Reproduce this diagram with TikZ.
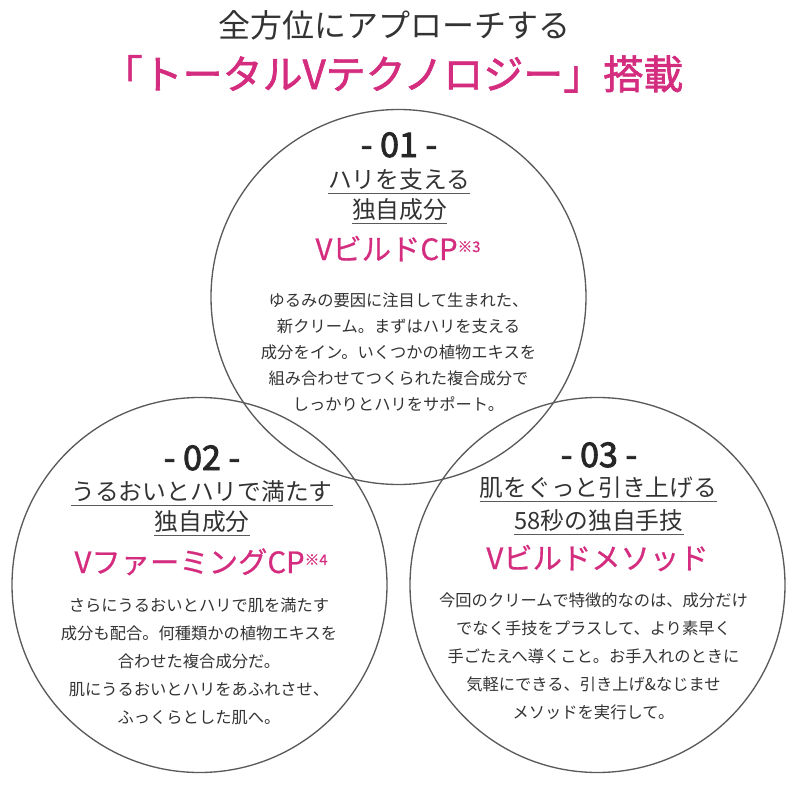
\documentclass[tikz,border=0pt]{standalone}
\usepackage{fontspec}
\setmainfont{Noto Sans CJK JP}
\newfontfamily\midfont{Noto Sans CJK JP}[FakeBold=1.6]
\newfontfamily\numfont{Noto Sans CJK JP}[FakeBold=2.6]
\newfontfamily\semifont{Noto Sans CJK JP}[FakeBold=0.7]
\definecolor{vpink}{HTML}{D42C7E}
\definecolor{ink}{HTML}{333333}
\definecolor{rim}{HTML}{5A5A5A}
\newcommand{\refmark}[1]{\raisebox{6pt}{\fontsize{11pt}{11pt}\selectfont ※#1}}

\begin{document}
\begin{tikzpicture}[x=0.75pt,y=-0.75pt,
  ring/.style={draw=rim, line width=1pt, circle, inner sep=0pt, minimum size=281.25pt},
  lead/.style={font=\fontsize{24pt}{28pt}\selectfont, text=ink, inner sep=0pt, anchor=base},
  catch/.style={font=\midfont\fontsize{30pt}{36pt}\selectfont, text=vpink, inner sep=0pt, anchor=base},
  numtag/.style={font=\numfont\fontsize{25.5pt}{30pt}\selectfont, text=black!85, inner sep=0pt, anchor=base},
  topic/.style={font=\fontsize{17.8pt}{21pt}\selectfont, text=ink, inner sep=0pt, anchor=base},
  vname/.style={font=\semifont\fontsize{22pt}{26pt}\selectfont, text=vpink, inner sep=0pt, anchor=base},
  blurb/.style={font=\fontsize{12.2pt}{#1}\selectfont, text=ink, align=center, inner sep=0pt},
  blurb/.default=21pt,
  uline/.style={draw=rim, line width=0.8pt}]
\useasboundingbox (0,0) rectangle (800,785);

% three overlapping rings
\node[ring] (ring1) at (398.5,297) {};
\node[ring] (ring2) at (199.5,585) {};
\node[ring] (ring3) at (597.5,585) {};

% headline
\node[lead] (head) at (394,37) {全方位にアプローチする};
\node[catch] (catch) at (393,89) {「トータルVテクノロジー」搭載};

% -01-
\node[numtag] (num1) at (399,157) {- 01 -};
\node[topic] (top1a) at (399,188.5) {ハリを支える};
\node[topic] (top1b) at (399.5,218.5) {独自成分};
\draw[uline] ([yshift=-4pt]top1a.base west) -- ([yshift=-4pt]top1a.base east);
\draw[uline] ([yshift=-4pt]top1b.base west) -- ([yshift=-4pt]top1b.base east);
\node[vname] (name1) at (398,260) {VビルドCP\refmark{3}};
\node[blurb=19.5pt] (text1) at (398.5,352) {ゆるみの要因に注目して生まれた、\\
  新クリーム。まずはハリを支える\\
  成分をイン。いくつかの植物エキスを\\
  組み合わせてつくられた複合成分で\\
  しっかりとハリをサポート。};

% -02-
\node[numtag] (num2) at (202,470) {- 02 -};
\node[topic] (top2a) at (202,500.5) {うるおいとハリで満たす};
\node[topic] (top2b) at (202,530.5) {独自成分};
\draw[uline] ([yshift=-4pt]top2a.base west) -- ([yshift=-4pt]top2a.base east);
\draw[uline] ([yshift=-4pt]top2b.base west) -- ([yshift=-4pt]top2b.base east);
\node[vname] (name2) at (201,573) {VファーミングCP\refmark{4}};
\node[blurb] (text2) at (199,661) {さらにうるおいとハリで肌を満たす\\
  成分も配合。何種類かの植物エキスを\\
  合わせた複合成分だ。\\
  肌にうるおいとハリをあふれさせ、\\
  ふっくらとした肌へ。};

% -03-
\node[numtag] (num3) at (599,467) {- 03 -};
\node[topic] (top3a) at (598.5,496.5) {肌をぐっと引き上げる};
\node[topic] (top3b) at (599,529) {58秒の独自手技};
\draw[uline] ([yshift=-4pt]top3a.base west) -- ([yshift=-4pt]top3a.base east);
\draw[uline] ([yshift=-4pt]top3b.base west) -- ([yshift=-4pt]top3b.base east);
\node[vname] (name3) at (597.5,569) {Vビルドメソッド};
\node[blurb] (text3) at (593.5,656.5) {今回のクリームで特徴的なのは、成分だけ\\
  でなく手技をプラスして、より素早く\\
  手ごたえへ導くこと。お手入れのときに\\
  気軽にできる、引き上げ\&なじませ\\
  メソッドを実行して。};
\end{tikzpicture}
\end{document}
